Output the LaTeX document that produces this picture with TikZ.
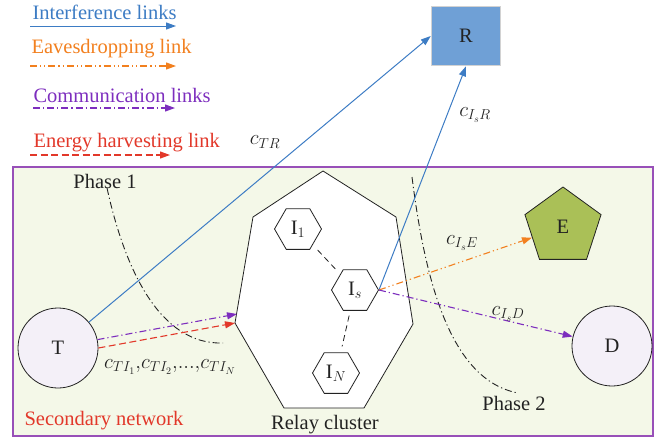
\documentclass[tikz,border=0pt]{standalone}
\usepackage{fontspec}
\setmainfont{Liberation Serif}
\usetikzlibrary{arrows.meta, positioning, shapes.geometric, calc}
\definecolor{linkblue}{HTML}{3D7CC4}
\definecolor{linkorange}{HTML}{F2801F}
\definecolor{linkpurple}{HTML}{7D2EBE}
\definecolor{linkred}{HTML}{E2382A}
\definecolor{netgreen}{HTML}{F4F8E8}
\definecolor{netborder}{HTML}{9850B8}
\definecolor{userfill}{HTML}{F4F0F8}
\definecolor{pufill}{HTML}{6FA0D6}
\definecolor{evefill}{HTML}{AAC057}
\definecolor{ink}{HTML}{222222}

\begin{document}
\begin{tikzpicture}[x=1pt, y=-1pt,
  every node/.style={font=\fontsize{20.5}{24}\selectfont, text=ink},
  user/.style={circle, draw=ink, thick, fill=userfill, minimum size=80pt, inner sep=0pt},
  relay/.style={regular polygon, regular polygon sides=6, draw=ink, thick,
                fill=white, minimum size=47pt, inner sep=0pt},
  linkhead/.style={-{Triangle[length=10pt, width=7pt]}},
  interf/.style={linkhead, line width=1pt, color=linkblue},
  eaves/.style={linkhead, line width=1.1pt, color=linkorange,
                dash pattern=on 7pt off 3pt on 1.2pt off 3pt on 1.2pt off 3pt},
  comm/.style={linkhead, line width=1.1pt, color=linkpurple,
               dash pattern=on 7pt off 3pt on 1.2pt off 3pt},
  harvest/.style={linkhead, line width=1.1pt, color=linkred, dash pattern=on 7pt off 3.5pt},
  phase/.style={line width=0.9pt, ink, dash pattern=on 7pt off 3pt on 1.2pt off 3pt},
  legend/.style={anchor=base west}
]
  \useasboundingbox (0,0) rectangle (666,439);

  % secondary network area
  \draw[netborder, line width=1.2pt, fill=netgreen] (13,167) rectangle (653,436);
  \node[text=linkred] (sec) at (104,421) {Secondary network};

  % phase borders
  \draw[phase] (107,188) .. controls (125,270) and (160,345) .. (223,343);
  \draw[phase] (412,177) .. controls (425,280) and (450,380) .. (518,393);
  \node (ph1) at (105,181) {Phase 1};
  \node (ph2) at (514,403) {Phase 2};

  % relay cluster
  \draw[ink, thick, fill=white] (323,171) -- (396,217) -- (413,324) -- (364,408)
    -- (284,408) -- (235,323) coordinate (kleft) -- (253,217) -- cycle;
  \coordinate (kin) at (237,314);
  \node (rc) at (325,425) {Relay cluster};

  \node[relay] (I1) at (298,229) {I$_1$};
  \node[relay] (Is) at (355,290) {I$_s$};
  \node[relay] (IN) at (336,373) {I$_N$};
  \draw[ink, thick, dash pattern=on 6pt off 4pt, shorten <=7pt, shorten >=5pt] (I1) -- (Is);
  \draw[ink, thick, dash pattern=on 6pt off 4pt, shorten <=5pt, shorten >=6pt] (Is) -- (IN);

  % terminals
  \node[user] (T) at (58,348) {T};
  \node[user] (D) at (612,346) {D};
  \node[regular polygon, regular polygon sides=5, draw=ink, thick, fill=evefill,
        minimum size=80pt, inner sep=0pt] (E) at (563,227) {E};
  \node[draw=gray!35, line width=1.5pt, fill=pufill,
        minimum width=69pt, minimum height=59pt] (R) at (466,36) {R};

  % links
  \draw[interf] (T) -- (R.west);
  \draw[interf] (Is.east) -- (R.south);
  \draw[comm] (T.12) -- (kin);
  \draw[harvest] (T.east) -- (kleft);
  \draw[eaves] (Is.east) -- (E);
  \draw[comm] (Is.east) -- (D);

  \node (cTR) at (265,142) {$c_{TR}$};
  \node (cIR) at (475,115) {$c_{I_sR}$};
  \node (cIE) at (462,243) {$c_{I_sE}$};
  \node (cID) at (508,314) {$c_{I_sD}$};
  \node (cTI) at (170,367) {$c_{TI_1}{,}c_{TI_2}{,}...{,}c_{TI_N}$};

  % legend
  \node[legend, text=linkblue] (lgI) at (29,19) {Interference links};
  \node[legend, text=linkorange] (lgE) at (28,53) {Eavesdropping link};
  \node[legend, text=linkpurple] (lgC) at (30,102) {Communication links};
  \node[legend, text=linkred] (lgH) at (30,147) {Energy harvesting link};
  \coordinate (lgIa) at (30,26);  \coordinate (lgIb) at (176,26);
  \coordinate (lgEa) at (30,66);  \coordinate (lgEb) at (176,66);
  \coordinate (lgCa) at (33,108); \coordinate (lgCb) at (175,108);
  \coordinate (lgHa) at (30,155); \coordinate (lgHb) at (170,155);
  \draw[interf] (lgIa) -- (lgIb);
  \draw[eaves] (lgEa) -- (lgEb);
  \draw[comm] (lgCa) -- (lgCb);
  \draw[harvest] (lgHa) -- (lgHb);
\end{tikzpicture}
\end{document}
